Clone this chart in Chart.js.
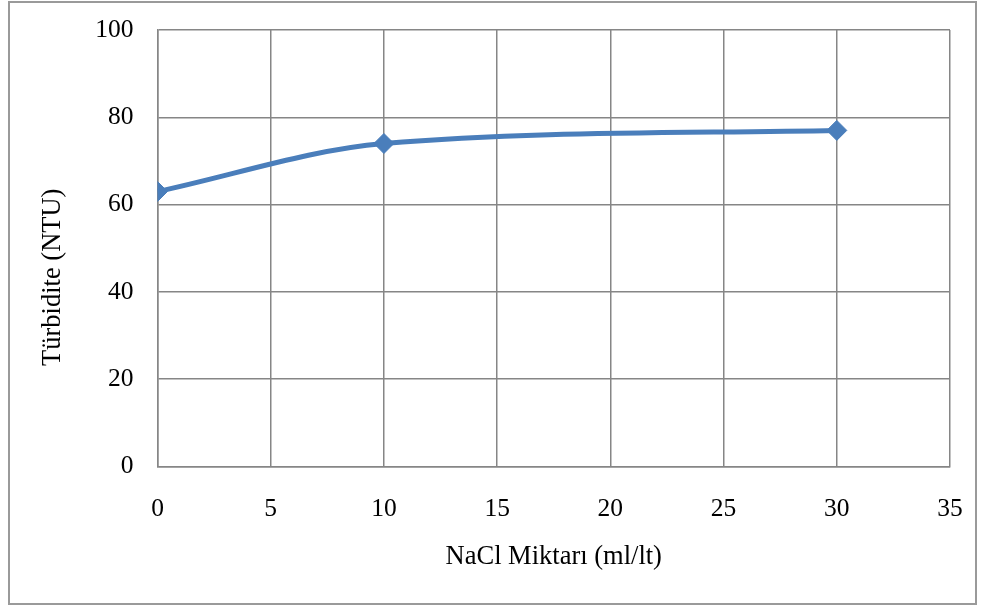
<!DOCTYPE html>
<html>
<head>
<meta charset="utf-8">
<script src="https://cdn.jsdelivr.net/npm/chart.js@4.4.1/dist/chart.umd.min.js"></script>
<style>
  html, body { margin: 0; padding: 0; background: #ffffff; }
  #wrap { position: relative; width: 985px; height: 608px; }
</style>
</head>
<body>
<div id="wrap"><canvas id="c" width="985" height="608"></canvas></div>
<script>
// NaCl dose (ml/lt) and measured turbidity (NTU)
const naclDose = [0, 10, 30];
const turbidity = [63, 74, 77];
const xTicks = [0, 5, 10, 15, 20, 25, 30, 35];
const yTicks = [0, 20, 40, 60, 80, 100];
const xTitle = 'NaCl Miktarı (ml/lt)';
const yTitle = 'Türbidite (NTU)';

const serif = "'Liberation Serif', 'Times New Roman', serif";
const gridGray = '#868686';
const lineBlue = '#4A7EBB';

// Outer frame around the whole chart
const framePlugin = {
  id: 'frame',
  beforeDraw(chart) {
    const ctx = chart.ctx;
    ctx.save();
    ctx.fillStyle = '#ffffff';
    ctx.fillRect(0, 0, chart.width, chart.height);
    ctx.strokeStyle = '#9a9a9a';
    ctx.lineWidth = 2;
    ctx.strokeRect(9, 2, 967, 602);
    ctx.restore();
  }
};

// Vertical axis title, set a little below the plot's middle
const yTitlePlugin = {
  id: 'yTitle',
  afterDraw(chart) {
    const ctx = chart.ctx;
    const area = chart.chartArea;
    ctx.save();
    ctx.translate(53, (area.top + area.bottom) / 2 + 29);
    ctx.rotate(-Math.PI / 2);
    ctx.font = '26.5px ' + serif;
    ctx.fillStyle = '#000000';
    ctx.textAlign = 'center';
    ctx.textBaseline = 'middle';
    ctx.fillText(yTitle, 0, 0);
    ctx.restore();
  }
};

new Chart(document.getElementById('c'), {
  type: 'line',
  data: {
    datasets: [{
      data: naclDose.map((x, i) => ({ x: x, y: turbidity[i] })),
      borderColor: lineBlue,
      backgroundColor: lineBlue,
      borderWidth: 5,
      cubicInterpolationMode: 'monotone',
      pointStyle: 'rectRot',
      pointRadius: 10,
      pointHoverRadius: 10,
      pointBackgroundColor: lineBlue,
      pointBorderColor: lineBlue,
      pointBorderWidth: 1
    }]
  },
  options: {
    responsive: false,
    animation: false,
    devicePixelRatio: 1,
    layout: { padding: { left: 0, top: 30, right: 35, bottom: 0 } },
    plugins: {
      legend: { display: false },
      tooltip: { enabled: false }
    },
    scales: {
      x: {
        type: 'linear',
        min: 0,
        max: 35,
        afterBuildTicks(scale) { scale.ticks = xTicks.map(v => ({ value: v })); },
        afterFit(scale) {
          scale.height = 141.5;
          scale.paddingLeft = 0;
          scale.paddingRight = 0;
        },
        grid: { color: gridGray, lineWidth: 1.5, drawTicks: false },
        border: { color: gridGray, width: 1.5 },
        ticks: {
          padding: 27,
          color: '#000000',
          font: { family: serif, size: 25.5 }
        },
        title: {
          display: true,
          text: xTitle,
          color: '#000000',
          font: { family: serif, size: 26.5 },
          padding: { top: 0, bottom: 35 }
        }
      },
      y: {
        type: 'linear',
        min: 0,
        max: 100,
        afterBuildTicks(scale) { scale.ticks = yTicks.map(v => ({ value: v })); },
        afterFit(scale) {
          scale.width = 157.5;
          scale.paddingTop = 0;
          scale.paddingBottom = 0;
        },
        grid: { color: gridGray, lineWidth: 1.5, drawTicks: false },
        border: { color: gridGray, width: 1.5 },
        ticks: {
          padding: 24,
          color: '#000000',
          font: { family: serif, size: 25.5 }
        },
        title: { display: false }
      }
    }
  },
  plugins: [framePlugin, yTitlePlugin]
});
</script>
</body>
</html>
